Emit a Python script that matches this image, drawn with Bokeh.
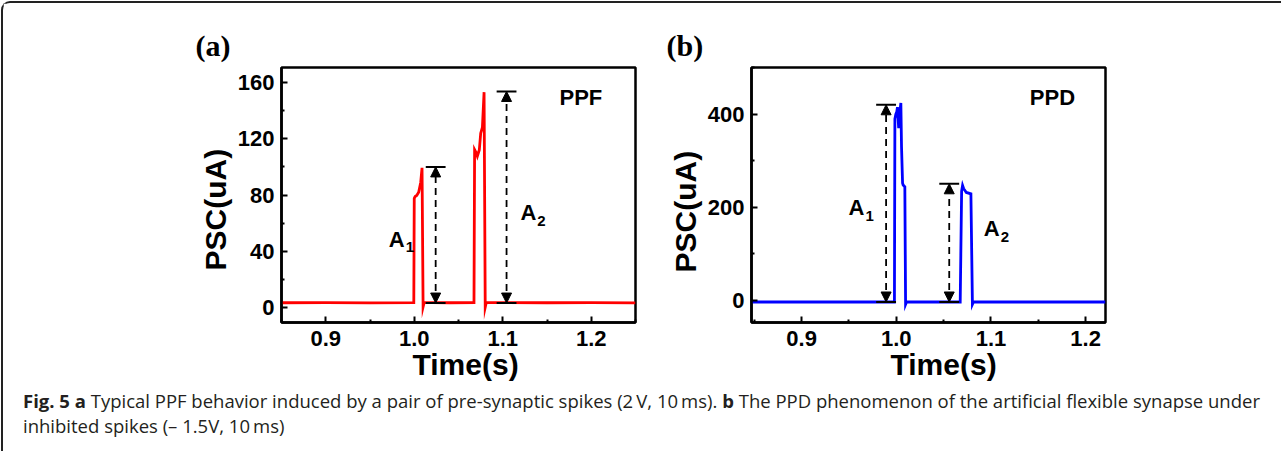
from bokeh.plotting import figure
from bokeh.models import (FixedTicker, Arrow, NormalHead, Div, Range1d, ColumnDataSource, Title)
from bokeh.layouts import row, column
from bokeh.core.properties import value
from bokeh.embed import file_html
from bokeh.resources import INLINE

# ---------------- data ----------------
# panel (a): PPF
time_a = [0.850, 0.900, 0.950, 0.9995, 1.0000, 1.0010, 1.0028, 1.0050, 1.0073, 1.0088,
          1.0100, 1.0112, 1.0200, 1.0400, 1.0675, 1.0682, 1.0700, 1.0713, 1.0735, 1.0751,
          1.0770, 1.0789, 1.0802, 1.0814, 1.1000, 1.1500, 1.2000, 1.2500]
psc_a = [3.7, 3.8, 3.6, 3.8, 77.8, 79.0, 79.7, 82.0, 89.0, 99.4,
         0.8, 3.9, 3.8, 3.7, 3.8, 112.2, 110.0, 107.6, 112.0, 123.9,
         128.0, 153.0, 0.5, 3.9, 3.8, 3.7, 3.8, 3.6]

# panel (b): PPD
time_b = [0.847, 0.900, 0.950, 0.9980, 0.9985, 0.9995, 1.0005, 1.0012, 1.0025, 1.0035,
          1.0048, 1.0055, 1.0066, 1.0072, 1.0090, 1.0098, 1.0108, 1.0300, 1.0500, 1.0675,
          1.0690, 1.0700, 1.0712, 1.0740, 1.0788, 1.0804, 1.0815, 1.1000, 1.1500, 1.2210]
psc_b = [-3, -3, -3, -3, 390, 400, 405, 415, 370, 400,
         424, 330, 252, 248, 244, -8, -3, -3, -3, -3,
         235, 247, 240, 232, 229, -8, -3, -3, -3, -3]

x_ticks = [0.9, 1.0, 1.1, 1.2]
x_minor = [0.85, 0.95, 1.05, 1.15, 1.25]
x_tick_labels = ["0.9", "1.0", "1.1", "1.2"]
y_ticks_a = [0, 40, 80, 120, 160]
y_minor_a = [20, 60, 100, 140]
y_ticks_b = [0, 200, 400]
y_minor_b = [100, 300, 500]

# amplitude markers (x position, top value, bottom value)
arrow_x_a = [1.0242, 1.1043]
arrow_top_a = [100.0, 153.5]
arrow_bot_a = [3.5, 3.5]
arrow_x_b = [0.9892, 1.0559]
arrow_top_b = [420.0, 250.5]
arrow_bot_b = [-3.0, -3.0]

# labels
amp_names = ["A", "A"]
amp_subs = ["1", "2"]
amp_lx_a = [0.9802, 1.1289]
amp_ly_a = [48.8, 67.6]
amp_lx_b = [0.9580, 1.1008]
amp_ly_b = [199.3, 154.5]
mode_a = ("PPF", 1.1883, 148.9)
mode_b = ("PPD", 1.1649, 435.5)
x_title = "Time(s)"
y_title = "PSC(uA)"

SANS = "Liberation Sans"


def make_panel(title, xr, yr, xs, ys, color, yt, ymt, ax, atop, abot, lx, ly, mode,
               width, height, bl, br, bt, bb, title_offset, cap_hw, xt_offset, yt_offset):
    p = figure(width=width, height=height, x_range=Range1d(*xr), y_range=Range1d(*yr),
               output_backend="svg", toolbar_location=None,
               min_border_left=bl, min_border_right=br, min_border_top=bt, min_border_bottom=bb,
               background_fill_color="white", border_fill_color="white")
    p.grid.visible = False
    p.outline_line_color = "black"
    p.outline_line_width = 2.5
    p.outline_line_alpha = 1.0

    p.title.text = title
    p.title.align = "left"
    p.title.offset = title_offset
    p.title.text_font = "Liberation Serif"
    p.title.text_font_size = "30px"
    p.title.text_font_style = "bold"
    p.title.text_color = "black"
    p.title.standoff = 11

    xa = p.xaxis[0]
    xa.ticker = FixedTicker(ticks=x_ticks, minor_ticks=x_minor)
    xa.major_label_overrides = {t: s for t, s in zip(x_ticks, x_tick_labels)}
    ya = p.yaxis[0]
    ya.ticker = FixedTicker(ticks=yt, minor_ticks=ymt)
    for a in (xa, ya):
        a.axis_line_width = 2.5
        a.axis_line_color = "black"
        a.major_tick_in = 6
        a.major_tick_out = 0
        a.minor_tick_in = 3
        a.minor_tick_out = 0
        a.major_tick_line_width = 2
        a.minor_tick_line_width = 2
        a.major_tick_line_color = "black"
        a.minor_tick_line_color = "black"
        a.major_label_text_font = SANS
        a.major_label_text_font_style = "bold"
        a.major_label_text_font_size = "22px"
        a.major_label_text_color = "black"
    xa.major_label_standoff = 8
    ya.major_label_standoff = 7

    # axis titles as side titles so that they can be shifted like in the original
    p.add_layout(Title(text=y_title, align="left", offset=yt_offset, standoff=6,
                       text_font=SANS, text_font_style="bold", text_font_size="30px",
                       text_color="black"), "left")
    p.add_layout(Title(text=x_title, align="left", offset=xt_offset, standoff=-5,
                       text_font=SANS, text_font_style="bold", text_font_size="30px",
                       text_color="black"), "below")

    p.line(xs, ys, line_color=color, line_width=2.8, line_join="miter")

    # amplitude arrows
    src = ColumnDataSource(dict(x=ax, top=atop, bot=abot,
                                x0=[v - cap_hw for v in ax], x1=[v + cap_hw for v in ax]))
    p.segment(x0="x0", x1="x1", y0="top", y1="top", source=src, line_color="black", line_width=2)
    p.segment(x0="x0", x1="x1", y0="bot", y1="bot", source=src, line_color="black", line_width=2)
    for xv, t, b in zip(ax, atop, abot):
        p.add_layout(Arrow(x_start=xv, y_start=b, x_end=xv, y_end=t,
                           start=NormalHead(size=10, fill_color="black", line_color="black", line_width=1),
                           end=NormalHead(size=10, fill_color="black", line_color="black", line_width=1),
                           line_color="black", line_width=1.8, line_dash="7 5"))

    p.text(x=lx, y=ly, text=amp_names, text_font=value(SANS), text_font_style="bold",
           text_font_size="22px", text_align="center", text_baseline="middle", text_color="black")
    p.text(x=lx, y=ly, text=amp_subs, text_font=value(SANS), text_font_style="bold",
           text_font_size="15px", text_align="left", text_baseline="middle", text_color="black",
           x_offset=9, y_offset=8)
    p.text(x=[mode[1]], y=[mode[2]], text=[mode[0]], text_font=value(SANS), text_font_style="bold",
           text_font_size="22px", text_align="center", text_baseline="middle", text_color="black")
    return p


pa = make_panel("(a)", (0.85, 1.25), (-10.3, 170.5), time_a, psc_a, "#ff0000",
                y_ticks_a, y_minor_a, arrow_x_a, arrow_top_a, arrow_bot_a,
                amp_lx_a, amp_ly_a, mode_a,
                width=642, height=387, bl=278, br=10, bt=55, bb=68, title_offset=-86,
                cap_hw=0.0112, xt_offset=131, yt_offset=52)
pb = make_panel("(b)", (0.847, 1.221), (-47, 500), time_b, psc_b, "#0000ff",
                y_ticks_b, y_minor_b, arrow_x_b, arrow_top_b, arrow_bot_b,
                amp_lx_b, amp_ly_b, mode_b,
                width=636, height=387, bl=106, br=176, bt=64, bb=65, title_offset=-85,
                cap_hw=0.0105, xt_offset=139, yt_offset=50)

caption_html = ('<b>Fig. 5 a</b> Typical PPF behavior induced by a pair of pre-synaptic spikes '
                '(2&#8201;V, 10&#8201;ms). <b>b</b> The PPD phenomenon of the artificial flexible '
                'synapse under<br>inhibited spikes (&#8211; 1.5V, 10&#8201;ms)')
cap = Div(text=caption_html, width=1278, height=61,
          styles={"font-family": "'Open Sans'", "font-size": "18.5px", "line-height": "25px",
                  "color": "#231f20", "white-space": "nowrap", "padding-left": "15px",
                  "padding-top": "0px", "box-sizing": "border-box", "margin-top": "-2px"})

layout = column(row(pa, pb), cap,
                styles={"margin-left": "1px", "margin-top": "1px",
                        "border-top": "2px solid #222", "border-left": "2px solid #222",
                        "border-top-left-radius": "9px"})

open("out.html", "w").write(file_html(layout, INLINE))
